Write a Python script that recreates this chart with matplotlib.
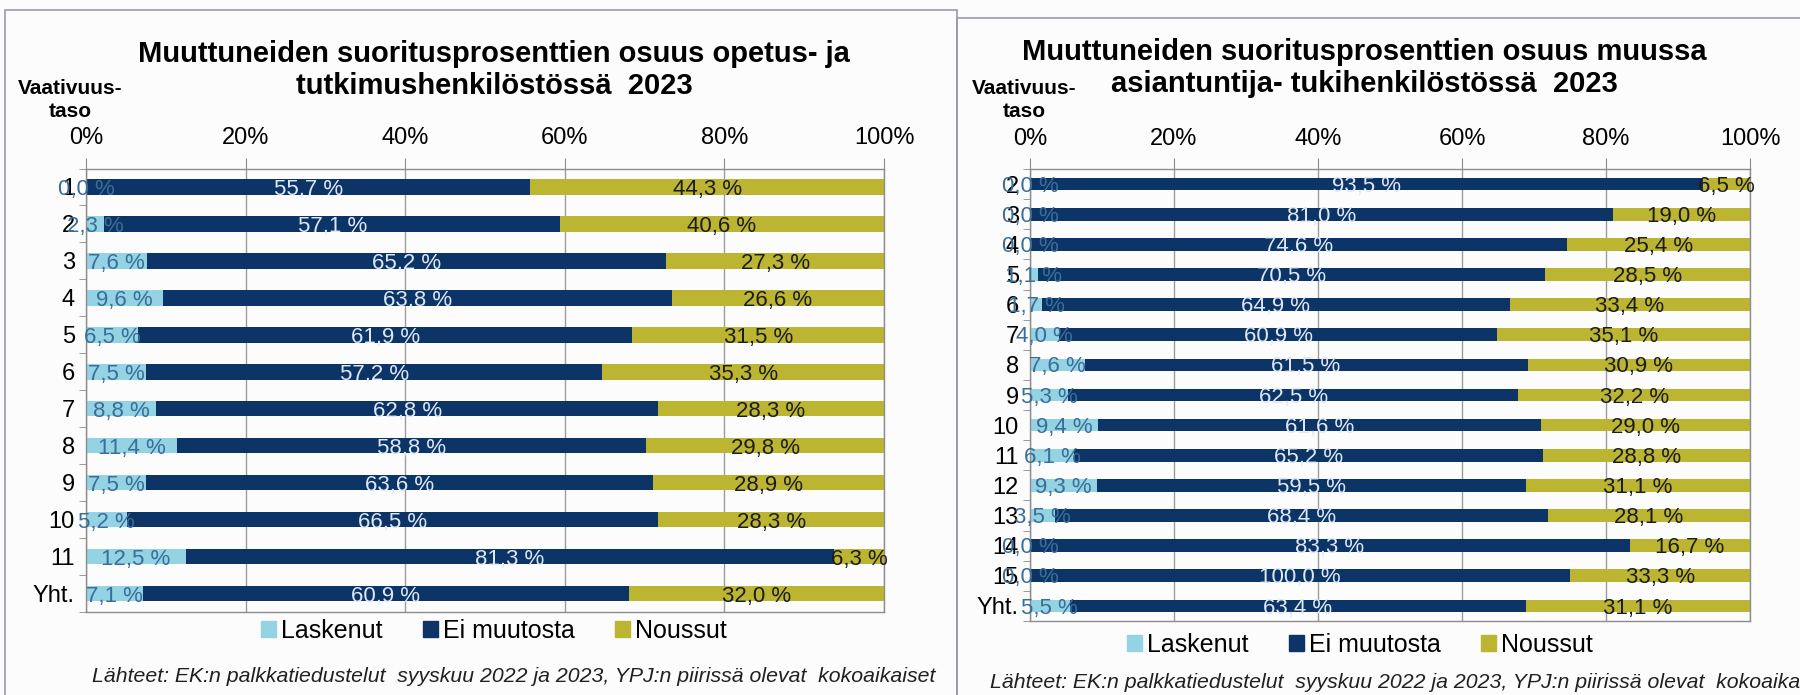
import numpy as np
import matplotlib
matplotlib.use("Agg")
import matplotlib.pyplot as plt
from matplotlib.patches import Rectangle, Patch

plt.rcParams['font.family'] = ['Liberation Sans Narrow', 'Liberation Sans', 'DejaVu Sans']

# --- data: opetus- ja tutkimushenkilöstö ---
left_cats = ["1", "2", "3", "4", "5", "6", "7", "8", "9", "10", "11", "Yht."]
left_laskenut = [0.0, 2.3, 7.6, 9.6, 6.5, 7.5, 8.8, 11.4, 7.5, 5.2, 12.5, 7.1]
left_ei = [55.7, 57.1, 65.2, 63.8, 61.9, 57.2, 62.8, 58.8, 63.6, 66.5, 81.3, 60.9]
left_noussut = [44.3, 40.6, 27.3, 26.6, 31.5, 35.3, 28.3, 29.8, 28.9, 28.3, 6.3, 32.0]

# --- data: muu asiantuntija- ja tukihenkilöstö ---
right_cats = ["2", "3", "4", "5", "6", "7", "8", "9", "10", "11", "12", "13", "14", "15", "Yht."]
right_laskenut = [0.0, 0.0, 0.0, 1.1, 1.7, 4.0, 7.6, 5.3, 9.4, 6.1, 9.3, 3.5, 0.0, 0.0, 5.5]
right_ei = [93.5, 81.0, 74.6, 70.5, 64.9, 60.9, 61.5, 62.5, 61.6, 65.2, 59.5, 68.4, 83.3, 100.0, 63.4]
right_noussut = [6.5, 19.0, 25.4, 28.5, 33.4, 35.1, 30.9, 32.2, 29.0, 28.8, 31.1, 28.1, 16.7, 33.3, 31.1]

series_names = ["Laskenut", "Ei muutosta", "Noussut"]
colors = ["#93d3e3", "#0c3467", "#bcb531"]
label_colors = ["#3a6e98", "#dce8f4", "#1c1c1c"]

source = "Lähteet: EK:n palkkatiedustelut  syyskuu 2022 ja 2023, YPJ:n piirissä olevat  kokoaikaiset"
BG = "#fcfcfd"


def fmt(v):
    return f"{v:.1f} %".replace(".", ",")


def draw_panel(fig, rect, cats, series, title, title_xy, vt_xy, legend_xy, source_xy):
    ax = fig.add_axes(rect)
    ax.set_facecolor(BG)
    data = np.array(series, dtype=float)
    total = data.sum(axis=0)
    frac = data / total * 100  # 100 % stacked
    y = np.arange(len(cats))
    left = np.zeros(len(cats))
    for k in range(3):
        ax.barh(y, frac[k], left=left, height=0.42, color=colors[k], zorder=2)
        for i in range(len(cats)):
            cx = left[i] + frac[k][i] / 2
            ax.text(cx, y[i] + 0.07, fmt(data[k][i]), ha='center', va='center',
                    fontsize=16, color=label_colors[k], zorder=3)
        left += frac[k]

    ax.set_xlim(0, 100)
    ax.set_ylim(len(cats) - 0.5, -0.5)
    ax.xaxis.tick_top()
    ax.set_xticks([0, 20, 40, 60, 80, 100])
    ax.set_xticklabels(["0%", "20%", "40%", "60%", "80%", "100%"], fontsize=17)
    ax.tick_params(axis='x', length=8, color='#8c8c8c', pad=6)
    ax.set_yticks(y)
    ax.set_yticklabels(cats, fontsize=17)
    ax.tick_params(axis='y', length=0, pad=8)
    ax.set_yticks(np.arange(len(cats) + 1) - 0.5, minor=True)
    ax.tick_params(axis='y', which='minor', length=5, color='#8c8c8c')
    ax.grid(axis='x', color='#9c9c9c', lw=1.0, zorder=1)
    for s in ax.spines.values():
        s.set_color('#8c8c8c')
        s.set_linewidth(1.0)

    fig.text(title_xy[0], title_xy[1], title, ha='center', va='center',
             fontsize=21, fontweight='bold', linespacing=1.2)
    fig.text(vt_xy[0], vt_xy[1], "Vaativuus-\ntaso", ha='center', va='center',
             fontsize=15, fontweight='bold', linespacing=1.3)

    handles = [Patch(color=c) for c in colors]
    fig.legend(handles, series_names, loc='center', bbox_to_anchor=legend_xy,
               ncol=3, frameon=False, fontsize=18, handlelength=0.6, handleheight=0.6,
               handletextpad=0.2, columnspacing=1.6)
    fig.text(source_xy[0], source_xy[1], source, ha='left', va='center',
             fontsize=15.3, style='italic', color='#202020')
    return ax


fig = plt.figure(figsize=(18, 6.95), dpi=100, facecolor=BG)
W, H = 1800, 695


def fx(px):
    return px / W


def fy(py):
    return 1 - py / H


# panel frames
fig.add_artist(Rectangle((fx(5), fy(700)), fx(952), (700 - 10) / H, transform=fig.transFigure,
                         fill=False, ec='#9a9aa8', lw=1.2))
fig.add_artist(Rectangle((fx(957), fy(700)), fx(860), (700 - 18) / H, transform=fig.transFigure,
                         fill=False, ec='#9a9aa8', lw=1.2))

draw_panel(fig, [fx(86), fy(612), fx(884 - 86), (612 - 168.5) / H],
           left_cats, [left_laskenut, left_ei, left_noussut],
           "Muuttuneiden suoritusprosenttien osuus opetus- ja\ntutkimushenkilöstössä  2023",
           (fx(494), fy(70)), (fx(70), fy(100)), (fx(494), fy(631)), (fx(92), fy(677)))

draw_panel(fig, [fx(1030), fy(621), fx(1750 - 1030), (621 - 169) / H],
           right_cats, [right_laskenut, right_ei, right_noussut],
           "Muuttuneiden suoritusprosenttien osuus muussa\nasiantuntija- tukihenkilöstössä  2023",
           (fx(1364), fy(68)), (fx(1024), fy(100)), (fx(1360), fy(645)), (fx(990), fy(683)))

fig.savefig("out.png", dpi=100, facecolor=BG)
